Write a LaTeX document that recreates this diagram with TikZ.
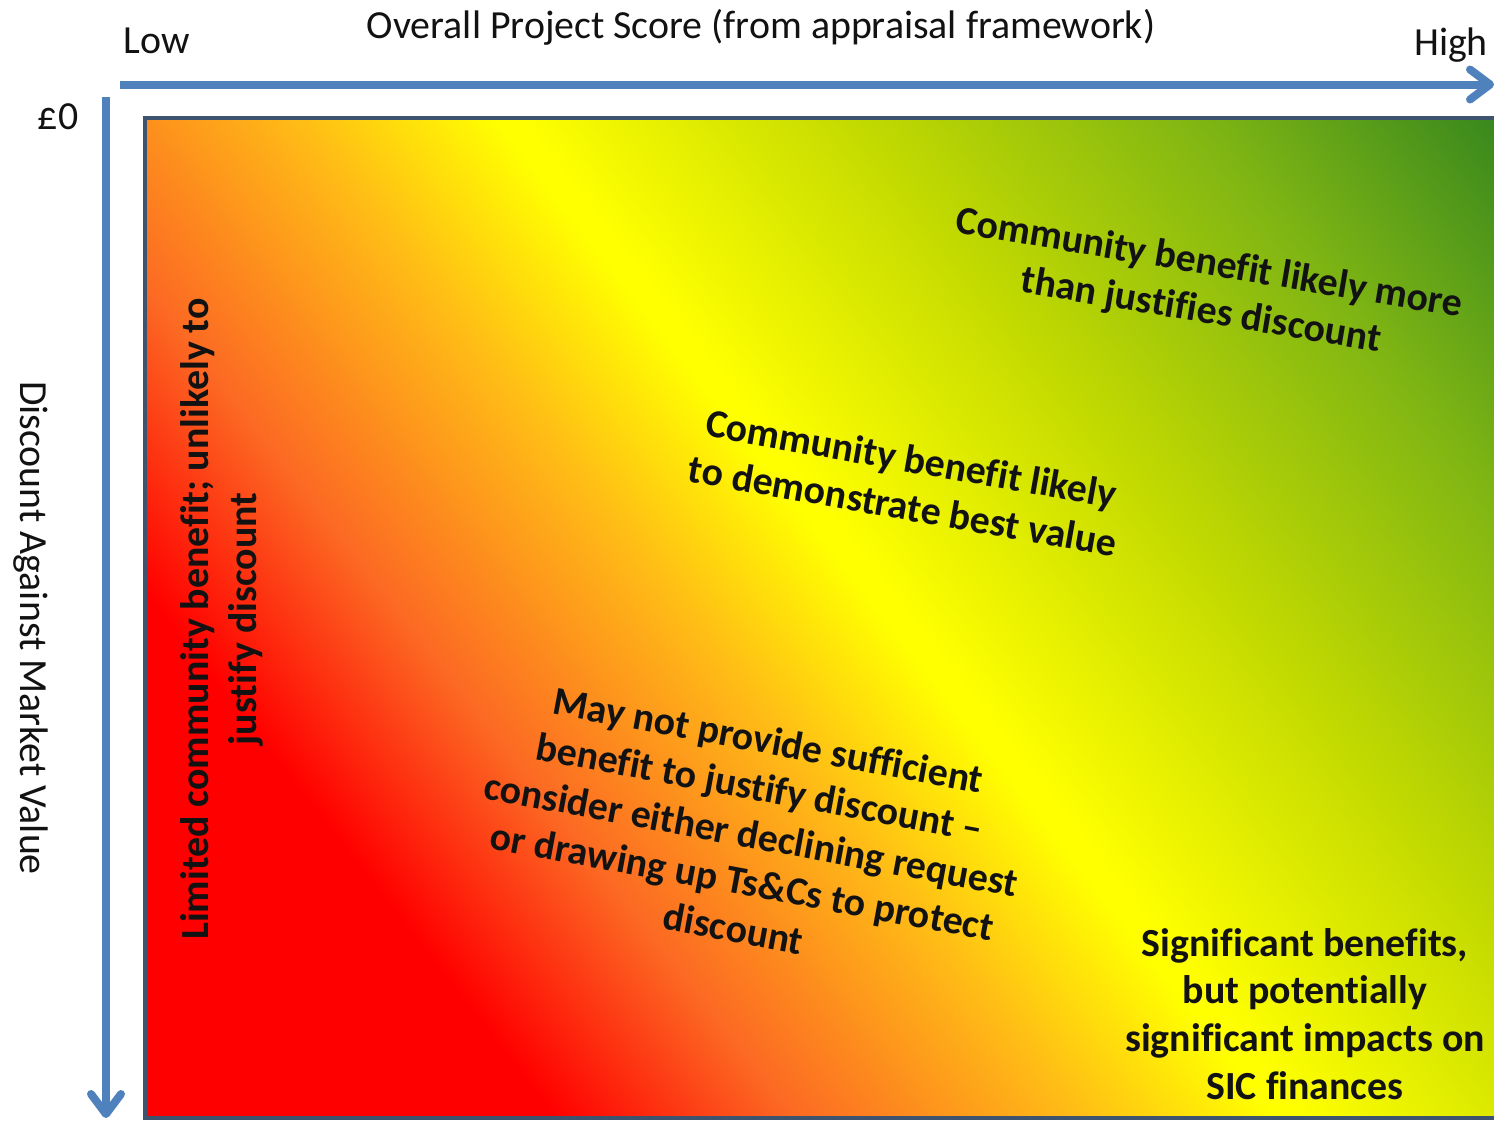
\documentclass[tikz,border=0pt]{standalone}
\usepackage{fontspec}
\setmainfont{Carlito}[Ligatures={NoCommon}]
\usetikzlibrary{arrows.meta}

\definecolor{axisblue}{RGB}{79,129,189}
\definecolor{framecol}{RGB}{62,84,110}
\definecolor{ink}{RGB}{18,18,18}
% colour stops of the score gradient (low score / high discount -> high score)
\definecolor{gA}{RGB}{255,0,0}
\definecolor{gB}{RGB}{252,105,35}
\definecolor{gC}{RGB}{255,188,22}
\definecolor{gD}{RGB}{255,255,0}
\definecolor{gE}{RGB}{195,218,0}
\definecolor{gF}{RGB}{125,180,20}
\definecolor{gG}{RGB}{55,135,30}

\pgfdeclarehorizontalshading{scoregrad}{1000bp}{%
  color(0bp)=(gA); color(185bp)=(gA); color(278bp)=(gB); color(390bp)=(gC);
  color(468bp)=(gD); color(478bp)=(gD); color(610bp)=(gE); color(750bp)=(gF);
  color(865bp)=(gG); color(900bp)=(gG)}

\begin{document}
\begin{tikzpicture}[x=0.5bp, y=-0.5bp,
  every node/.style={inner sep=0pt, outer sep=0pt, text=ink},
  axislabel/.style={font=\fontsize{20}{24}\selectfont},
  zonelabel/.style={font=\bfseries\fontsize{20}{24}\selectfont, align=center},
  axisarrow/.style={draw=axisblue, line width=4bp,
    -{Straight Barb[length=10bp, width=15bp, line cap=round, line join=round]}},
  framebox/.style={draw=framecol, line width=2bp}]

\useasboundingbox (0,0) rectangle (1494,1120);
\fill[white] (0,0) rectangle (1494,1120);
\clip (0,0) rectangle (1494,1120);

% diagonal colour field
\begin{scope}
  \clip (144.5,117.5) rectangle (1530,1118);
  \node[rotate=38] (field) at (831,608) {\pgfuseshading{scoregrad}};
\end{scope}
\draw[framebox] (144.5,117.5) rectangle (1530,1118);

% axes
\coordinate (xstart) at (120,84.5);
\coordinate (xend) at (1494,84.5);
\coordinate (ystart) at (106,97);
\coordinate (yend) at (106,1118);
\draw[axisarrow] (xstart) -- (xend);
\draw[axisarrow] (ystart) -- (yend);

% axis labels
\node[axislabel] (low) at (157,41) {Low};
\node[axislabel] (title) at (761,27) {Overall Project Score (from appraisal framework)};
\node[axislabel] (high) at (1451,45) {High};
\node[axislabel] (zero) at (58,117) {£0};
\node[axislabel, rotate=-90] (vlabel) at (31,628) {Discount Against Market Value};

% zone descriptions
\node[zonelabel, rotate=90] (limited) at (222,619)
  {Limited community benefit; unlikely to\\justify discount};
\node[zonelabel, rotate=-9.5] (more) at (1205,288)
  {Community benefit likely more\\than justifies discount};
\node[zonelabel, rotate=-10] (best) at (907,482)
  {Community benefit likely\\to demonstrate best value};
\node[zonelabel, rotate=-10.5] (maynot) at (751,834)
  {May not provide sufficient\\benefit to justify discount –\\consider either declining request\\or drawing up Ts\&Cs to protect\\discount};
\node[zonelabel] (sig) at (1305,1014)
  {Significant benefits,\\but potentially\\significant impacts on\\SIC finances};
\end{tikzpicture}
\end{document}
